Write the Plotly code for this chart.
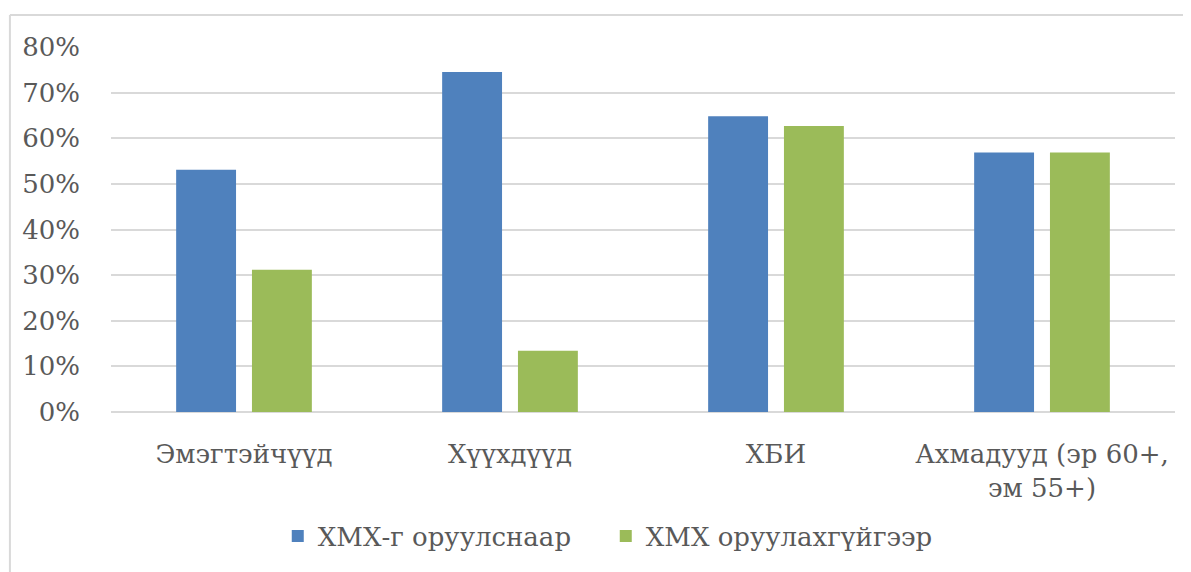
import plotly.graph_objects as go

CATEGORIES = ["Эмэгтэйчүүд", "Хүүхдүүд", "ХБИ", "Ахмадууд (эр 60+,<br>эм 55+)"]
SERIES_NAMES = ["ХМХ-г оруулснаар", "ХМХ оруулахгүйгээр"]
WITH_SA = [0.531, 0.745, 0.648, 0.569]
WITHOUT_SA = [0.312, 0.134, 0.627, 0.569]
Y_TICKS = [0, 0.1, 0.2, 0.3, 0.4, 0.5, 0.6, 0.7, 0.8]

COLORS = ["#4F81BD", "#9BBB59"]
FONT = "DejaVu Serif"
TEXT = "#595959"
GRID = "#D9D9D9"

fig = go.Figure()
for name, vals, col in zip(SERIES_NAMES, [WITH_SA, WITHOUT_SA], COLORS):
    fig.add_trace(go.Bar(x=CATEGORIES, y=vals, name=name, marker_color=col,
                         marker_line_width=0))

# chart frame (cropped: only top and left edges visible)
fig.add_shape(type="line", xref="paper", yref="paper", x0=-0.095, x1=1.02,
              y0=1.088, y1=1.088, line=dict(color=GRID, width=2))
fig.add_shape(type="line", xref="paper", yref="paper", x0=-0.095, x1=-0.095,
              y0=1.088, y1=-0.45, line=dict(color=GRID, width=2))

# page body adds an 8px offset, so the figure is drawn slightly smaller
fig.update_layout(
    width=1183, height=564,
    margin=dict(l=103, r=16, t=39, b=160, autoexpand=False),
    paper_bgcolor="white", plot_bgcolor="white",
    font=dict(family=FONT, size=26, color=TEXT),
    barmode="group", bargap=0.43, bargroupgap=0.21,
    legend=dict(orientation="h", x=0.465, xanchor="center", y=-0.34,
                yanchor="middle", font=dict(size=26), itemwidth=30,
                entrywidth=283, tracegroupgap=0),
    xaxis=dict(showgrid=False, showline=False, ticks="", ticklabelstandoff=24,
               automargin=False),
    yaxis=dict(range=[0, 0.8], tickvals=Y_TICKS, tickformat=".0%",
               showgrid=True, gridcolor=GRID, gridwidth=2, zeroline=True,
               zerolinecolor=GRID, zerolinewidth=2, showline=False, ticks="",
               ticklabelstandoff=30, automargin=False),
)

fig.write_html("out.html")
